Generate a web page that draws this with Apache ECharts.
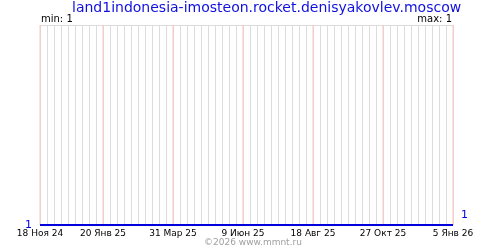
<!DOCTYPE html>
<html><head><meta charset="utf-8">
<script src="https://cdn.jsdelivr.net/npm/echarts@6/dist/echarts.min.js"></script>
<style>html,body{margin:0;padding:0;background:#fff}#c{width:500px;height:250px}</style>
</head><body><div id="c"></div>
<script>
var titleText = 'land1indonesia-imosteon.rocket.denisyakovlev.moscow';
var startDate = '2024-11-18';
var endDate = '2026-01-05';
var seriesDates = ['2024-11-18', '2026-01-05'];
var seriesValues = [1, 1];
var tickDates = ['2024-11-18', '2025-01-20', '2025-03-31', '2025-06-09', '2025-08-18', '2025-10-27', '2026-01-05'];
var tickLabels = ['18 Ноя 24', '20 Янв 25', '31 Мар 25', '9 Июн 25', '18 Авг 25', '27 Окт 25', '5 Янв 26'];
var minLabel = 'min: 1';
var maxLabel = 'max: 1';
var copyright = '©2026 www.mmnt.ru';

var DAY = 86400000;
function dayOf(s){ return Math.round((Date.parse(s + 'T00:00:00Z') - Date.parse(startDate + 'T00:00:00Z')) / DAY); }
var totalDays = dayOf(endDate);
var tickDays = tickDates.map(dayOf);
var labelMap = {};
tickDays.forEach(function(d, i){ labelMap[d] = tickLabels[i]; });
var seriesData = seriesDates.map(function(d, i){ return [dayOf(d), seriesValues[i]]; });
var majorLineData = tickDays.map(function(d){ return [d, 2]; });

var font = 'DejaVu Sans';
var chart = echarts.init(document.getElementById('c'), null, {renderer: 'canvas'});
chart.setOption({
  animation: false,
  grid: {left: 40, right: 47, top: 25, bottom: 25, containLabel: false},
  xAxis: [{
    type: 'value', min: 0, max: totalDays, interval: 7,
    axisLine: {show: false}, axisTick: {show: false},
    axisLabel: {show: true, customValues: tickDays, color: '#000', fontSize: 9, fontFamily: font, margin: 4,
      formatter: function(v){ return labelMap[v] || ''; }},
    splitLine: {show: true, lineStyle: {color: '#dcdcdc', width: 1}}
  }],
  yAxis: [{
    type: 'value', min: 1, max: 2, interval: 1,
    axisLine: {show: false}, axisTick: {show: false},
    splitLine: {show: true, lineStyle: {color: '#dcdcdc'}},
    axisLabel: {color: '#0000ee', fontSize: 11, fontFamily: font, margin: 8,
      formatter: function(v){ return v === 1 ? '1' : ''; }}
  }],
  series: [{
    type: 'bar', data: majorLineData, barWidth: 1, silent: true, z: 2,
    itemStyle: {color: '#ffc4c4'}
  }, {
    type: 'line', data: seriesData, symbol: 'none', silent: true,
    lineStyle: {color: '#0000dd', width: 2},
    z: 5,
    endLabel: {show: true, formatter: function(p){ return String(p.value[1]); }, color: '#0000ee', fontSize: 11, fontFamily: font, offset: [0, -10]}
  }],
  graphic: [
    {type: 'text', left: 72, top: 1, style: {text: titleText, fill: '#1010e0', font: '14px "DejaVu Sans"'}},
    {type: 'text', left: 41, top: 14, style: {text: minLabel, fill: '#000', font: '10px "DejaVu Sans"'}},
    {type: 'text', right: 48, top: 14, style: {text: maxLabel, fill: '#000', font: '10px "DejaVu Sans"'}},
    {type: 'text', left: 204, top: 238, style: {text: copyright, fill: '#a0a0a0', font: '9px "DejaVu Sans"'}}
  ]
});
</script></body></html>
